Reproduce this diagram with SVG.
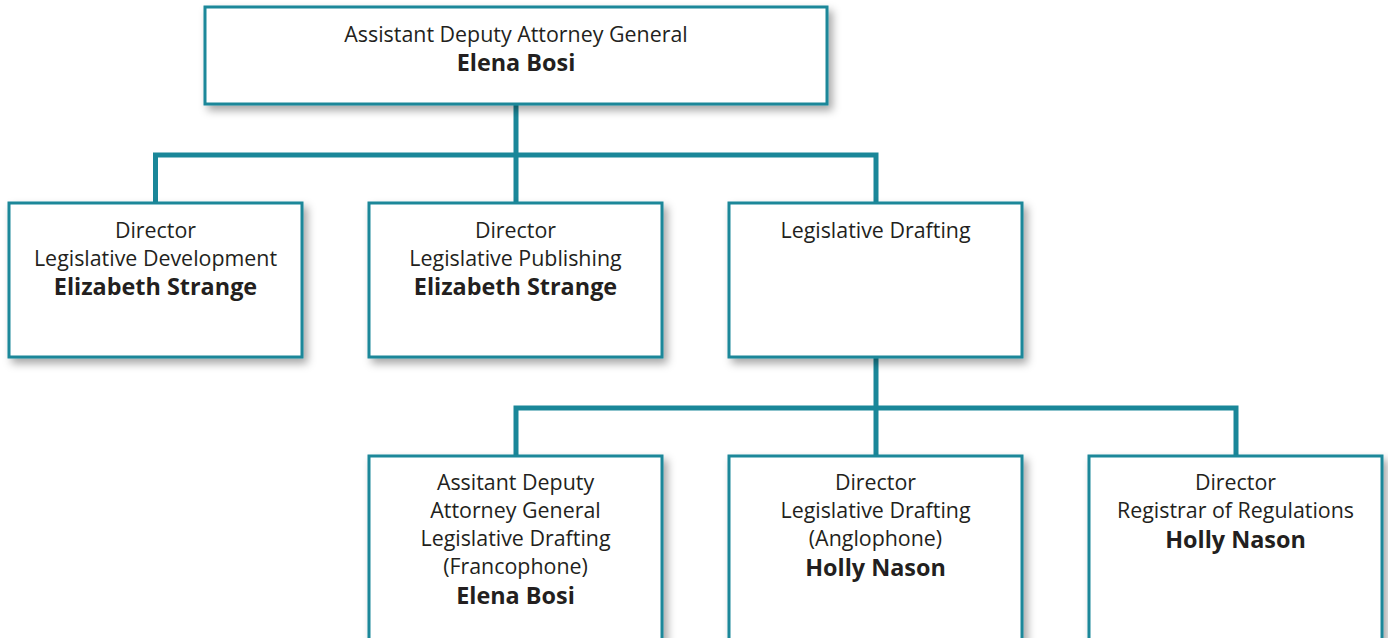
<svg xmlns="http://www.w3.org/2000/svg" width="1388" height="638" viewBox="0 0 1388 638">
<defs>
<filter id="sh" x="-10%" y="-10%" width="125%" height="130%">
<feDropShadow dx="4" dy="5" stdDeviation="4" flood-color="#000" flood-opacity="0.35"/>
</filter>
<style>
.box{fill:#fff;stroke:#1a8799;stroke-width:3;filter:url(#sh)}
.conn{fill:none;stroke:#1a8799;stroke-width:5}
text{font-family:"Open Sans","Noto Sans",sans-serif;fill:#231f20;text-anchor:middle;font-size:21.4px}
.b{font-weight:bold;font-size:23.4px}
</style>
</defs>
<rect width="1388" height="638" fill="#fff"/>
<g id="connectors">
<path class="conn" d="M516 104 V155 M155.5 203 V155 H876 V203 M516 155 V203"/>
<path class="conn" d="M876 357 V408 M516 456 V408 H1236 V456 M876 408 V456"/>
</g>
<g id="n1"><rect class="box" x="205" y="7" width="622" height="97"/>
<text x="516" y="42">Assistant Deputy Attorney General</text>
<text class="b" x="516" y="71">Elena Bosi</text></g>
<g id="n2"><rect class="box" x="9" y="203" width="293" height="154"/>
<text x="155.5" y="238">Director</text>
<text x="155.5" y="266">Legislative Development</text>
<text class="b" x="155.5" y="295">Elizabeth Strange</text></g>
<g id="n3"><rect class="box" x="369" y="203" width="293" height="154"/>
<text x="515.5" y="238">Director</text>
<text x="515.5" y="266">Legislative Publishing</text>
<text class="b" x="515.5" y="295">Elizabeth Strange</text></g>
<g id="n4"><rect class="box" x="729" y="203" width="293" height="154"/>
<text x="875.5" y="238">Legislative Drafting</text></g>
<g id="n5"><rect class="box" x="369" y="456" width="293" height="200"/>
<text x="515.5" y="490">Assitant Deputy</text>
<text x="515.5" y="518">Attorney General</text>
<text x="515.5" y="546">Legislative Drafting</text>
<text x="515.5" y="574">(Francophone)</text>
<text class="b" x="515.5" y="604">Elena Bosi</text></g>
<g id="n6"><rect class="box" x="729" y="456" width="293" height="200"/>
<text x="875.5" y="490">Director</text>
<text x="875.5" y="518">Legislative Drafting</text>
<text x="875.5" y="546">(Anglophone)</text>
<text class="b" x="875.5" y="576">Holly Nason</text></g>
<g id="n7"><rect class="box" x="1089" y="456" width="293" height="200"/>
<text x="1235.5" y="490">Director</text>
<text x="1235.5" y="518">Registrar of Regulations</text>
<text class="b" x="1235.5" y="548">Holly Nason</text></g>
</svg>
